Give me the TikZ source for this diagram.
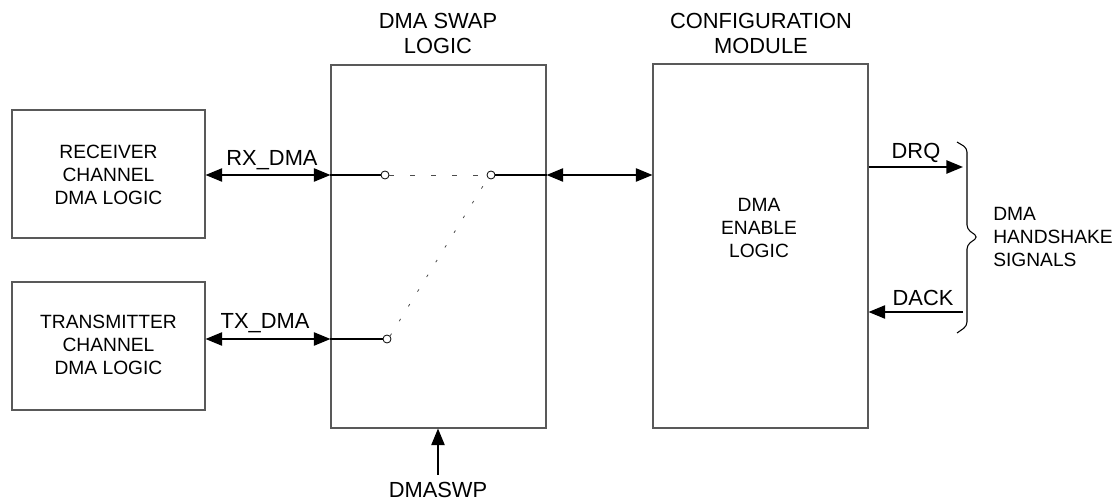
\documentclass[tikz,border=0pt]{standalone}
\usepackage{fontspec}
\setmainfont{Liberation Sans}
\usetikzlibrary{arrows.meta,fit}
\begin{document}
\begin{tikzpicture}[x=0.75pt,y=-0.75pt,
  box/.style={draw=black!65,line width=0.8pt,inner sep=0pt},
  btxt/.style={align=center,inner sep=0pt,font=\fontsize{14.4}{17.25}\selectfont},
  lbl/.style={align=center,inner sep=0pt,font=\fontsize{16.4}{18.75}\selectfont},
  tip/.style={Triangle[length=12.5pt,width=10pt]},
  dbl/.style={{Triangle[length=12.5pt,width=10pt]}-{Triangle[length=12.5pt,width=10pt]},line width=1.2pt},
  sgl/.style={-{Triangle[length=12.5pt,width=10pt]},line width=1.2pt},
  wire/.style={line width=1.2pt},
  circ/.style={circle,draw,line width=0.6pt,inner sep=0pt,minimum size=6pt,fill=white},
  swdash/.style={draw=black!70,line width=0.6pt,dash pattern=on 3.75pt off 12pt},
  swdiag/.style={draw=black!70,line width=0.6pt,dash pattern=on 2pt off 11pt}]
\useasboundingbox (0,0) rectangle (1115,502);
% boxes
\node[box,fit={(12,110)(205,238)}] (rx) {};
\node[box,fit={(12,282)(205,410)}] (tx) {};
\node[box,fit={(331,65)(546,428)}] (swap) {};
\node[box,fit={(653,64)(868,428)}] (cfg) {};
% box texts
\node[btxt] (rxt) at (108.5,175) {RECEIVER\\CHANNEL\\DMA LOGIC};
\node[btxt] (txt) at (108.5,345) {TRANSMITTER\\CHANNEL\\DMA LOGIC};
\node[btxt] (cfgt) at (759,228) {DMA\\ENABLE\\LOGIC};
% titles
\node[lbl] (swapt) at (438,33) {DMA SWAP\\LOGIC};
\node[lbl] (cfgtitle) at (761,33) {CONFIGURATION\\MODULE};
% switch contacts
\node[circ] (s1) at (385,175) {};
\node[circ] (s2) at (387,339) {};
\node[circ] (s3) at (491,175) {};
% RX / TX connections
\draw[dbl] (rx.east |- s1) -- (swap.west |- s1);
\draw[wire] (swap.west |- s1) -- (s1.west);
\node[lbl] (rxl) at (272,160) {RX\_DMA};
\draw[dbl] (tx.east |- s2) -- (swap.west |- s2);
\draw[wire] (swap.west |- s2) -- (s2.west);
\node[lbl] (txl) at (265,323) {TX\_DMA};
% switch dashed lines
\draw[swdash] (s1.east) -- (s3.west);
\draw[swdiag] (s2.north east) -- (s3.south west);
% to config module
\draw[wire] (s3.east) -- (swap.east |- s3);
\draw[dbl] (swap.east |- s3) -- (cfg.west |- s3);
% DMASWP
\node[lbl,inner sep=0pt] (dmaswp) at (438,490) {DMASWP};
\coordinate (swpstart) at (438,475);
\draw[sgl] (swpstart) -- (swap.south -| swpstart);
% DRQ / DACK
\coordinate (drqend) at (963,167);
\coordinate (dackstart) at (963,312);
\draw[sgl] (cfg.east |- drqend) -- (drqend);
\node[lbl] (drq) at (916,153) {DRQ};
\draw[sgl] (dackstart) -- (cfg.east |- dackstart);
\node[lbl] (dack) at (923,298) {DACK};
% brace
\draw[line width=0.8pt,rounded corners=3pt] (957,142) -- (967,148) -- (967,229) -- (978,237) -- (967,245) -- (967,326) -- (957,333);
\node[btxt,align=left,anchor=west] (hs) at (993,237) {DMA\\HANDSHAKE\\SIGNALS};
\end{tikzpicture}
\end{document}
